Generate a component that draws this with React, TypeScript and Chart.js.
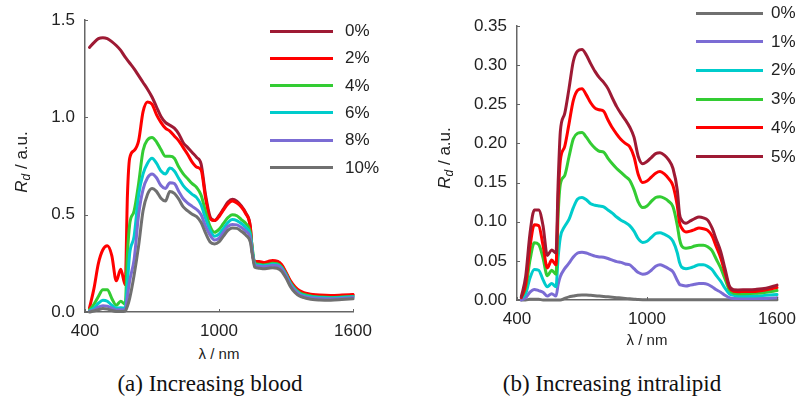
import React, { useEffect, useRef } from "react";
import { Chart, registerables } from "chart.js";

Chart.register(...registerables);

// Wavelength grid (nm)
const LAMBDA = [420, 440, 460, 480, 500, 520, 540, 560, 580, 590, 600, 620, 640, 660, 680, 700, 720, 740, 760, 780, 800, 820, 840, 860, 880, 900, 920, 940, 960, 980, 1000, 1020, 1040, 1060, 1080, 1100, 1120, 1140, 1150, 1160, 1180, 1200, 1220, 1240, 1260, 1280, 1300, 1320, 1340, 1360, 1380, 1400, 1420, 1450, 1500, 1550, 1600];

// (a) Increasing blood
const BLOOD_LABELS = ["0%", "2%", "4%", "6%", "8%", "10%"];
const blood0 = [1.36, 1.385, 1.405, 1.41, 1.405, 1.39, 1.37, 1.345, 1.31, 1.295, 1.28, 1.25, 1.215, 1.18, 1.145, 1.105, 1.055, 1.005, 0.975, 0.96, 0.945, 0.915, 0.87, 0.845, 0.82, 0.795, 0.76, 0.6, 0.49, 0.47, 0.495, 0.53, 0.565, 0.58, 0.57, 0.545, 0.51, 0.44, 0.3, 0.26, 0.255, 0.25, 0.255, 0.26, 0.26, 0.24, 0.2, 0.155, 0.125, 0.105, 0.095, 0.088, 0.085, 0.082, 0.08, 0.082, 0.087];
const blood2 = [0.02, 0.12, 0.25, 0.32, 0.34, 0.29, 0.16, 0.22, 0.14, 0.6, 0.79, 0.83, 0.88, 1.03, 1.08, 1.068, 1.015, 0.975, 0.945, 0.93, 0.905, 0.88, 0.845, 0.81, 0.77, 0.745, 0.73, 0.585, 0.48, 0.47, 0.49, 0.525, 0.555, 0.57, 0.56, 0.54, 0.505, 0.44, 0.3, 0.26, 0.26, 0.255, 0.26, 0.265, 0.262, 0.245, 0.205, 0.16, 0.13, 0.11, 0.1, 0.094, 0.09, 0.087, 0.085, 0.087, 0.09];
const blood4 = [0.01, 0.04, 0.08, 0.115, 0.115, 0.07, 0.035, 0.055, 0.04, 0.3, 0.45, 0.52, 0.66, 0.83, 0.885, 0.897, 0.875, 0.835, 0.8, 0.8, 0.79, 0.745, 0.71, 0.685, 0.66, 0.64, 0.6, 0.515, 0.44, 0.41, 0.425, 0.455, 0.485, 0.5, 0.495, 0.475, 0.455, 0.41, 0.32, 0.25, 0.245, 0.242, 0.245, 0.25, 0.248, 0.232, 0.195, 0.15, 0.12, 0.1, 0.09, 0.085, 0.08, 0.077, 0.075, 0.077, 0.08];
const blood6 = [0.005, 0.02, 0.045, 0.06, 0.055, 0.035, 0.02, 0.022, 0.02, 0.15, 0.3, 0.39, 0.6, 0.71, 0.765, 0.79, 0.765, 0.725, 0.71, 0.74, 0.725, 0.686, 0.65, 0.625, 0.605, 0.588, 0.55, 0.48, 0.42, 0.39, 0.4, 0.43, 0.46, 0.475, 0.47, 0.455, 0.435, 0.395, 0.31, 0.245, 0.24, 0.238, 0.24, 0.245, 0.243, 0.228, 0.19, 0.145, 0.115, 0.095, 0.085, 0.08, 0.077, 0.074, 0.072, 0.074, 0.078];
const blood8 = [0.003, 0.01, 0.025, 0.032, 0.03, 0.02, 0.01, 0.012, 0.01, 0.08, 0.16, 0.27, 0.5, 0.63, 0.69, 0.71, 0.69, 0.65, 0.635, 0.665, 0.66, 0.62, 0.582, 0.56, 0.543, 0.527, 0.5, 0.44, 0.395, 0.37, 0.38, 0.41, 0.44, 0.45, 0.448, 0.435, 0.415, 0.38, 0.3, 0.24, 0.235, 0.233, 0.235, 0.24, 0.238, 0.223, 0.185, 0.14, 0.11, 0.09, 0.08, 0.075, 0.072, 0.069, 0.068, 0.07, 0.074];
const blood10 = [0.0, 0.005, 0.012, 0.018, 0.015, 0.008, 0.003, 0.002, 0.005, 0.03, 0.07, 0.19, 0.34, 0.52, 0.605, 0.635, 0.62, 0.585, 0.57, 0.62, 0.61, 0.58, 0.54, 0.52, 0.503, 0.49, 0.46, 0.405, 0.36, 0.35, 0.36, 0.39, 0.42, 0.432, 0.43, 0.415, 0.395, 0.36, 0.29, 0.23, 0.225, 0.222, 0.225, 0.228, 0.225, 0.21, 0.175, 0.13, 0.1, 0.082, 0.074, 0.068, 0.064, 0.062, 0.061, 0.064, 0.068];

// (b) Increasing intralipid
const LIPID_LABELS = ["0%", "1%", "2%", "3%", "4%", "5%"];
const lipid0 = [0, 0, 0.001, 0.001, 0.001, 0, 0, 0, 0, 0, 0, 0.002, 0.004, 0.005, 0.006, 0.0065, 0.0065, 0.006, 0.0055, 0.005, 0.0045, 0.004, 0.0035, 0.003, 0.0025, 0.002, 0.0015, 0.001, 0.0005, 0.0003, 0.0003, 0.0003, 0.0003, 0.0003, 0.0003, 0.0003, 0.0003, 0.0003, 0.0003, 0.0003, 0.0003, 0.0003, 0.0003, 0.0003, 0.0003, 0.0003, 0.0003, 0.0003, 0.0003, 0.0003, 0.0003, 0.0003, 0.0003, 0.0003, 0.0003, 0.0003, 0.0003];
const lipid1 = [0, 0.003, 0.01, 0.0135, 0.012, 0.01, 0.005, 0.008, 0.005, 0.02, 0.03, 0.04, 0.047, 0.055, 0.06, 0.061, 0.06, 0.058, 0.056, 0.055, 0.0545, 0.053, 0.051, 0.049, 0.048, 0.046, 0.045, 0.04, 0.035, 0.033, 0.034, 0.038, 0.043, 0.045, 0.043, 0.04, 0.036, 0.025, 0.02, 0.019, 0.018, 0.019, 0.02, 0.021, 0.021, 0.02, 0.017, 0.013, 0.01, 0.006, 0.003, 0.002, 0.002, 0.002, 0.002, 0.002, 0.003];
const lipid2 = [0.003, 0.008, 0.028, 0.039, 0.038, 0.026, 0.017, 0.021, 0.017, 0.055, 0.08, 0.094, 0.103, 0.118, 0.129, 0.131, 0.128, 0.123, 0.121, 0.12, 0.119, 0.115, 0.111, 0.106, 0.102, 0.099, 0.095, 0.088, 0.078, 0.0735, 0.075, 0.08, 0.085, 0.086, 0.084, 0.081, 0.075, 0.06, 0.048, 0.042, 0.04, 0.041, 0.043, 0.045, 0.045, 0.043, 0.039, 0.031, 0.024, 0.015, 0.008, 0.006, 0.005, 0.005, 0.005, 0.006, 0.007];
const lipid3 = [0.004, 0.015, 0.051, 0.073, 0.071, 0.054, 0.031, 0.038, 0.033, 0.11, 0.148, 0.159, 0.183, 0.206, 0.213, 0.214, 0.208, 0.2, 0.194, 0.19, 0.189, 0.181, 0.174, 0.168, 0.163, 0.158, 0.153, 0.141, 0.125, 0.118, 0.12, 0.126, 0.131, 0.132, 0.13, 0.126, 0.119, 0.095, 0.078, 0.069, 0.066, 0.067, 0.069, 0.07, 0.07, 0.068, 0.063, 0.052, 0.041, 0.027, 0.013, 0.0085, 0.008, 0.008, 0.0085, 0.01, 0.012];
const lipid4 = [0.003, 0.02, 0.068, 0.096, 0.095, 0.07, 0.041, 0.051, 0.045, 0.13, 0.178, 0.196, 0.225, 0.255, 0.268, 0.27, 0.262, 0.252, 0.245, 0.243, 0.241, 0.23, 0.22, 0.212, 0.205, 0.2, 0.196, 0.183, 0.16, 0.15, 0.152, 0.157, 0.162, 0.164, 0.161, 0.155, 0.146, 0.12, 0.099, 0.092, 0.087, 0.088, 0.09, 0.092, 0.091, 0.089, 0.082, 0.068, 0.054, 0.035, 0.016, 0.011, 0.0105, 0.011, 0.011, 0.013, 0.016];
const lipid5 = [0.004, 0.03, 0.085, 0.115, 0.115, 0.095, 0.057, 0.064, 0.06, 0.15, 0.215, 0.238, 0.27, 0.305, 0.318, 0.32, 0.313, 0.302, 0.292, 0.284, 0.278, 0.27, 0.258, 0.247, 0.238, 0.23, 0.221, 0.208, 0.183, 0.174, 0.177, 0.182, 0.187, 0.188, 0.185, 0.179, 0.168, 0.14, 0.11, 0.102, 0.098, 0.101, 0.104, 0.106, 0.105, 0.102, 0.092, 0.077, 0.062, 0.04, 0.018, 0.013, 0.0128, 0.013, 0.0135, 0.015, 0.019];

const X_TICKS = [400, 1000, 1600];
const BLOOD_Y_TICKS = [0, 0.5, 1.0, 1.5];
const LIPID_Y_TICKS = [0, 0.05, 0.1, 0.15, 0.2, 0.25, 0.3, 0.35];

const DARKRED = "#9E1A34";
const RED = "#FF0000";
const GREEN = "#33CC33";
const CYAN = "#00CCCC";
const PURPLE = "#7B6CD4";
const GRAY = "#707070";

const BLOOD_COLORS = [DARKRED, RED, GREEN, CYAN, PURPLE, GRAY];
const LIPID_COLORS = [GRAY, PURPLE, CYAN, GREEN, RED, DARKRED];

const SANS = "'Liberation Sans', Arial, sans-serif";
const AXIS_COLOR = "#666666";
const TEXT_COLOR = "#222222";

const inwardTicks = {
  id: "inwardTicks",
  afterDraw(chart: any) {
    const { ctx, chartArea, scales } = chart;
    ctx.save();
    ctx.strokeStyle = AXIS_COLOR;
    ctx.lineWidth = 1;
    const xs = scales.x;
    xs.ticks.forEach((t: any) => {
      const px = Math.round(xs.getPixelForValue(t.value)) + 0.5;
      ctx.beginPath();
      ctx.moveTo(px, chartArea.bottom);
      ctx.lineTo(px, chartArea.bottom - 3);
      ctx.stroke();
    });
    const ys = scales.y;
    ys.ticks.forEach((t: any) => {
      const py = Math.round(ys.getPixelForValue(t.value)) + 0.5;
      ctx.beginPath();
      ctx.moveTo(chartArea.left, py);
      ctx.lineTo(chartArea.left + 3, py);
      ctx.stroke();
    });
    ctx.restore();
  },
};

type PanelProps = {
  series: number[][];
  labels: string[];
  colors: string[];
  yMax: number;
  yTicks: number[];
  decimals: number;
  yAxisWidth: number;
  padTop: number;
  padRight: number;
  xAxisHeight: number;
  width: number;
  height: number;
};

function Panel(p: PanelProps) {
  const ref = useRef<HTMLCanvasElement | null>(null);
  useEffect(() => {
    if (!ref.current) return;
    const n = p.series.length;
    const chart = new Chart(ref.current, {
      type: "line",
      data: {
        datasets: p.series.map((arr, i) => ({
          label: p.labels[i],
          data: LAMBDA.map((x, j) => ({ x, y: arr[j] })),
          borderColor: p.colors[i],
          backgroundColor: p.colors[i],
          borderWidth: 3,
          pointRadius: 0,
          fill: false,
          cubicInterpolationMode: "monotone" as const,
          borderJoinStyle: "round" as const,
          borderCapStyle: "round" as const,
          clip: false as any,
          order: n - i,
        })),
      },
      options: {
        animation: false,
        responsive: false,
        maintainAspectRatio: false,
        layout: { padding: { top: p.padTop, right: p.padRight, left: 0, bottom: 0 } },
        plugins: { legend: { display: false }, tooltip: { enabled: false } },
        scales: {
          x: {
            type: "linear",
            min: 400,
            max: 1600,
            afterBuildTicks: (s: any) => {
              s.ticks = X_TICKS.map((v) => ({ value: v }));
            },
            afterFit: (s: any) => {
              s.height = p.xAxisHeight;
            },
            ticks: {
              font: { family: SANS, size: 17 },
              color: TEXT_COLOR,
              padding: 9,
              maxRotation: 0,
              callback: (v: any) => String(v),
            },
            grid: { drawOnChartArea: false, drawTicks: false },
            border: { display: true, color: AXIS_COLOR, width: 1.5 },
          },
          y: {
            type: "linear",
            min: 0,
            max: p.yMax,
            afterBuildTicks: (s: any) => {
              s.ticks = p.yTicks.map((v) => ({ value: v }));
            },
            afterFit: (s: any) => {
              s.width = p.yAxisWidth;
            },
            ticks: {
              font: { family: SANS, size: 17 },
              color: TEXT_COLOR,
              padding: 10,
              callback: (v: any) => Number(v).toFixed(p.decimals),
            },
            grid: { drawOnChartArea: false, drawTicks: false },
            border: { display: true, color: AXIS_COLOR, width: 1.5 },
          },
        },
      },
      plugins: [inwardTicks],
    });
    return () => chart.destroy();
  }, []);
  return <canvas ref={ref} width={p.width} height={p.height} style={{ width: p.width, height: p.height, display: "block" }} />;
}

function Legend({ labels, colors, left, top, step, lineLen, textLeft }: any) {
  return (
    <>
      {labels.map((l: string, i: number) => (
        <div key={l} style={{ position: "absolute", left, top: top + i * step - 10, height: 20, width: 120 }}>
          <div style={{ position: "absolute", left: 0, top: 8.5, width: lineLen, height: 3, background: colors[i] }} />
          <div style={{ position: "absolute", left: textLeft, top: 0, lineHeight: "20px", font: `17px ${SANS}`, color: TEXT_COLOR }}>{l}</div>
        </div>
      ))}
    </>
  );
}

function YTitle({ cx, cy }: { cx: number; cy: number }) {
  return (
    <div
      style={{
        position: "absolute",
        left: cx - 50,
        top: cy - 12,
        width: 100,
        height: 24,
        lineHeight: "24px",
        textAlign: "center",
        transform: "rotate(-90deg)",
        font: `17px ${SANS}`,
        color: TEXT_COLOR,
        whiteSpace: "nowrap",
      }}
    >
      <i>R</i>
      <sub style={{ fontSize: 12, fontStyle: "italic", verticalAlign: "-3px" }}>d</sub> / a.u.
    </div>
  );
}

function XTitle({ cx, cy }: { cx: number; cy: number }) {
  return (
    <div style={{ position: "absolute", left: cx - 50, top: cy - 10, width: 100, lineHeight: "20px", textAlign: "center", font: `15px ${SANS}`, color: TEXT_COLOR }}>
      λ / nm
    </div>
  );
}

function Caption({ cx, cy, text }: { cx: number; cy: number; text: string }) {
  return (
    <div style={{ position: "absolute", left: cx - 200, top: cy - 14, width: 400, lineHeight: "28px", textAlign: "center", font: `23px 'Liberation Serif', 'Times New Roman', serif`, color: "#111" }}>
      {text}
    </div>
  );
}

export default function App() {
  return (
    <div style={{ position: "absolute", left: 0, top: 0, width: 806, height: 410, background: "#fff", overflow: "hidden" }}>
      <div style={{ position: "absolute", left: 0, top: 0 }}>
        <Panel
          series={[blood0, blood2, blood4, blood6, blood8, blood10]}
          labels={BLOOD_LABELS}
          colors={BLOOD_COLORS}
          yMax={1.5}
          yTicks={BLOOD_Y_TICKS}
          decimals={1}
          yAxisWidth={85}
          padTop={16}
          padRight={47}
          xAxisHeight={33}
          width={400}
          height={345}
        />
      </div>
      <div style={{ position: "absolute", left: 400, top: 0 }}>
        <Panel
          series={[lipid0, lipid1, lipid2, lipid3, lipid4, lipid5]}
          labels={LIPID_LABELS}
          colors={LIPID_COLORS}
          yMax={0.35}
          yTicks={LIPID_Y_TICKS}
          decimals={2}
          yAxisWidth={117}
          padTop={26}
          padRight={29}
          xAxisHeight={45}
          width={406}
          height={345}
        />
      </div>
      <Legend labels={BLOOD_LABELS} colors={BLOOD_COLORS} left={270} top={31} step={27.3} lineLen={63} textLeft={75} />
      <Legend labels={LIPID_LABELS} colors={LIPID_COLORS} left={696} top={13} step={28.7} lineLen={67} textLeft={75} />
      <YTitle cx={24} cy={162} />
      <YTitle cx={447} cy={158} />
      <XTitle cx={219} cy={355} />
      <XTitle cx={647} cy={341} />
      <Caption cx={210} cy={385} text="(a) Increasing blood" />
      <Caption cx={612} cy={385} text="(b) Increasing intralipid" />
    </div>
  );
}
